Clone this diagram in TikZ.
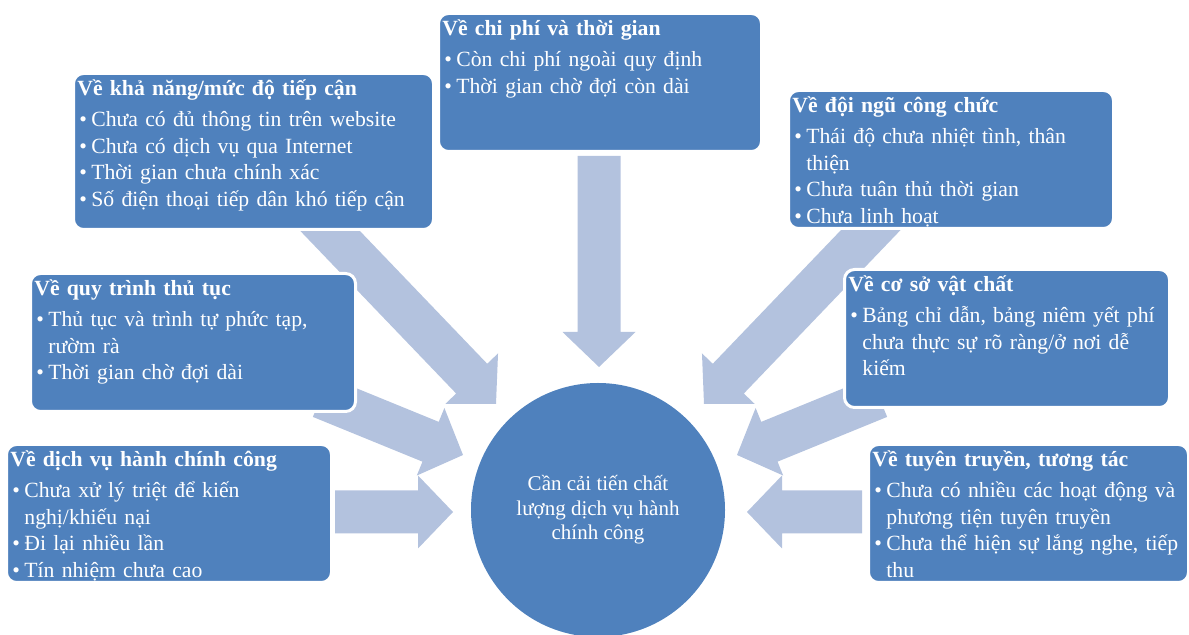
\documentclass[tikz,border=0pt]{standalone}
\usepackage{fontspec}
\setmainfont{Liberation Serif}
\usetikzlibrary{calc, positioning}
\definecolor{boxblue}{HTML}{4F81BD}
\definecolor{arrowblue}{HTML}{B3C2DE}
\newcommand{\bul}[1]{\par\hangindent=7pt\hangafter=1\noindent\makebox[7pt][l]{\kern1pt\textbullet}#1\par}

\begin{document}
\begin{tikzpicture}[x=0.5pt, y=-0.5pt,
    catbox/.style={rectangle, draw=white, line width=1.5pt, fill=boxblue, rounded corners=5pt, anchor=north west, minimum width=162.5pt, minimum height=69pt, inner sep=0pt},
    cattext/.style={anchor=north west, text=white, text width=185pt, align=left, inner sep=0pt, font=\fontsize{10.85}{13.3}\selectfont\setlength{\parindent}{0pt}},
    blockarrow/.style={to path={let \p1=(\tikztostart), \p2=(\tikztotarget), \n1={atan2(\y2-\y1,\x2-\x1)}, \n2={veclen(\x2-\x1,\y2-\y1)-17.5pt} in
        ($(\p1)+(\n1+90:10.75pt)$) -- ($(\p1)+(\n1:\n2)+(\n1+90:10.75pt)$) -- ($(\p1)+(\n1:\n2)+(\n1+90:18.25pt)$) -- (\p2)
        -- ($(\p1)+(\n1:\n2)+(\n1-90:18.25pt)$) -- ($(\p1)+(\n1:\n2)+(\n1-90:10.75pt)$) -- ($(\p1)+(\n1-90:10.75pt)$) -- cycle}}]
    \useasboundingbox (0,0) rectangle (1189,635);

    % Arrow ends
    \coordinate (accS) at (310,210);   \coordinate (accT) at (496,404);
    \coordinate (costS) at (599,156);  \coordinate (costT) at (599,367);
    \coordinate (staffS) at (890,210); \coordinate (staffT) at (704,404);
    \coordinate (procS) at (321,397);  \coordinate (procT) at (463,455);
    \coordinate (facS) at (879,397);   \coordinate (facT) at (737,455);
    \coordinate (pubS) at (335,512);   \coordinate (pubT) at (453,512);
    \coordinate (propS) at (862,512);  \coordinate (propT) at (747,512);

    % Arrows
    \fill [arrowblue] (accS) to[blockarrow] (accT);
    \fill [arrowblue] (costS) to[blockarrow] (costT);
    \fill [arrowblue] (staffS) to[blockarrow] (staffT);
    \fill [arrowblue] (procS) to[blockarrow] (procT);
    \fill [arrowblue] (facS) to[blockarrow] (facT);
    \fill [arrowblue] (pubS) to[blockarrow] (pubT);
    \fill [arrowblue] (propS) to[blockarrow] (propT);

    % Boxes
    \node [catbox, minimum width=180pt, minimum height=78pt] (acc) at (72,72) {};
    \node [catbox, minimum width=161.5pt] (cost) at (437,12) {};
    \node [catbox] (staff) at (787,89) {};
    \node [catbox] (proc) at (29,272) {};
    \node [catbox] (fac) at (843,268) {};
    \node [catbox] (pub) at (5,443) {};
    \node [catbox, minimum width=160pt] (prop) at (867,443) {};

    % Texts
    \node [cattext] (accText) at ([shift={(5,7)}]acc.north west) {\textbf{Về khả năng/mức độ tiếp cận}\par\vspace{2.5pt}
        \bul{Chưa có đủ thông tin trên website}\bul{Chưa có dịch vụ qua Internet}\bul{Thời gian chưa chính xác}\bul{Số điện thoại tiếp dân khó tiếp cận}};
    \node [cattext] (costText) at ([shift={(5,7)}]cost.north west) {\textbf{Về chi phí và thời gian}\par\vspace{2.5pt}
        \bul{Còn chi phí ngoài quy định}\bul{Thời gian chờ đợi còn dài}};
    \node [cattext] (staffText) at ([shift={(5,7)}]staff.north west) {\textbf{Về đội ngũ công chức}\par\vspace{2.5pt}
        \bul{Thái độ chưa nhiệt tình, thân\newline thiện}\bul{Chưa tuân thủ thời gian}\bul{Chưa linh hoạt}};
    \node [cattext] (procText) at ([shift={(5,7)}]proc.north west) {\textbf{Về quy trình thủ tục}\par\vspace{2.5pt}
        \bul{Thủ tục và trình tự phức tạp,\newline rườm rà}\bul{Thời gian chờ đợi dài}};
    \node [cattext] (facText) at ([shift={(5,7)}]fac.north west) {\textbf{Về cơ sở vật chất}\par\vspace{2.5pt}
        \bul{Bảng chỉ dẫn, bảng niêm yết phí\newline chưa thực sự rõ ràng/ở nơi dễ\newline kiếm}};
    \node [cattext] (pubText) at ([shift={(5,7)}]pub.north west) {\textbf{Về dịch vụ hành chính công}\par\vspace{2.5pt}
        \bul{Chưa xử lý triệt để kiến\newline nghị/khiếu nại}\bul{Đi lại nhiều lần}\bul{Tín nhiệm chưa cao}};
    \node [cattext] (propText) at ([shift={(5,7)}]prop.north west) {\textbf{Về tuyên truyền, tương tác}\par\vspace{2.5pt}
        \bul{Chưa có nhiều các hoạt động và\newline phương tiện tuyên truyền}\bul{Chưa thể hiện sự lắng nghe, tiếp\newline thu}};

    % Centre
    \node [circle, fill=boxblue, minimum size=127pt, inner sep=0pt, text=white, align=center, font=\fontsize{10.5}{12.3}\selectfont] (goal) at (598,510) {Cần cải tiến chất\\lượng dịch vụ hành\\chính công};
\end{tikzpicture}
\end{document}
